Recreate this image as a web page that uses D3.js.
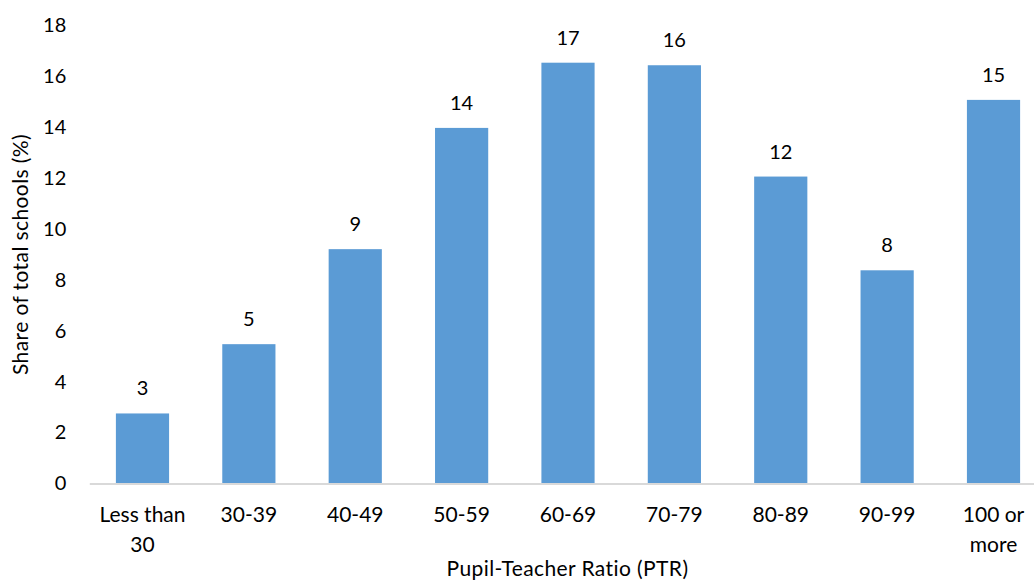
<!DOCTYPE html>
<html>
<head>
<meta charset="utf-8">
<script src="https://cdn.jsdelivr.net/npm/d3@7"></script>
<style>
  html, body { margin: 0; padding: 0; background: #fff; }
  svg { display: block; }
  text { font-family: Lato, "Open Sans", sans-serif; fill: #000; }
</style>
</head>
<body>
<svg id="chart" width="1034" height="583"></svg>
<script>
// Share of schools by pupil-teacher ratio band
const categories = ["Less than 30", "30-39", "40-49", "50-59", "60-69", "70-79", "80-89", "90-99", "100 or more"];
const shares = [2.75, 5.47, 9.2, 13.96, 16.52, 16.42, 12.05, 8.37, 15.06];
const yTicks = [0, 2, 4, 6, 8, 10, 12, 14, 16, 18];

const svg = d3.select("#chart");
const plot = { left: 89.3, right: 1046.7, top: 25, bottom: 483.5 };

const x = d3.scaleBand()
  .domain(categories)
  .range([plot.left, plot.right])
  .paddingInner(0.5)
  .paddingOuter(0.25);

const y = d3.scaleLinear()
  .domain([0, 18])
  .range([plot.bottom, plot.top]);

// Bars
svg.append("g")
  .selectAll("rect")
  .data(shares)
  .join("rect")
  .attr("x", (d, i) => x(categories[i]))
  .attr("y", d => y(d))
  .attr("width", x.bandwidth())
  .attr("height", d => y(0) - y(d))
  .attr("fill", "#5B9BD5");

// Value labels, rounded to whole percent
svg.append("g")
  .selectAll("text")
  .data(shares)
  .join("text")
  .attr("x", (d, i) => x(categories[i]) + x.bandwidth() / 2)
  .attr("y", d => y(d) - 18)
  .attr("text-anchor", "middle")
  .attr("font-size", 20)
  .text(d => d3.format(".0f")(d));

// Y axis (labels only)
const yAxis = svg.append("g")
  .attr("transform", `translate(${plot.left},0)`)
  .call(d3.axisLeft(y).tickValues(yTicks).tickSize(0).tickPadding(23));
yAxis.select(".domain").remove();
yAxis.selectAll("text")
  .attr("font-size", 20)
  .attr("font-family", "Lato, sans-serif")
  .attr("fill", "#000");

// X axis
const xAxis = svg.append("g")
  .attr("transform", `translate(0,${plot.bottom})`)
  .call(d3.axisBottom(x).tickSize(0).tickPadding(24));
xAxis.select(".domain").attr("stroke", "#D9D9D9").attr("stroke-width", 2);
xAxis.selectAll("text")
  .attr("font-size", 21)
  .attr("font-family", "Lato, sans-serif")
  .attr("fill", "#000")
  .call(wrap, 100);

function wrap(sel, width) {
  sel.each(function () {
    const t = d3.select(this);
    const words = t.text().split(/\s+/);
    const yAttr = t.attr("y");
    const dy = parseFloat(t.attr("dy")) || 0;
    t.text(null);
    let line = [];
    let lineNo = 0;
    let tspan = t.append("tspan").attr("x", 0).attr("y", yAttr).attr("dy", dy + "em");
    for (const w of words) {
      line.push(w);
      tspan.text(line.join(" "));
      if (tspan.node().getComputedTextLength() > width && line.length > 1) {
        line.pop();
        tspan.text(line.join(" "));
        line = [w];
        lineNo++;
        tspan = t.append("tspan").attr("x", 0).attr("y", yAttr)
          .attr("dy", (lineNo * 1.43 + dy) + "em").text(w);
      }
    }
  });
}

// Axis titles
svg.append("text")
  .attr("x", 567.5)
  .attr("y", 576)
  .attr("text-anchor", "middle")
  .attr("font-size", 21)
  .attr("letter-spacing", 0.4)
  .text("Pupil-Teacher Ratio (PTR)");

svg.append("text")
  .attr("transform", "translate(27.5,254.5) rotate(-90)")
  .attr("text-anchor", "middle")
  .attr("font-size", 21)
  .attr("letter-spacing", 0.4)
  .text("Share of total schools (%)");
</script>
</body>
</html>
